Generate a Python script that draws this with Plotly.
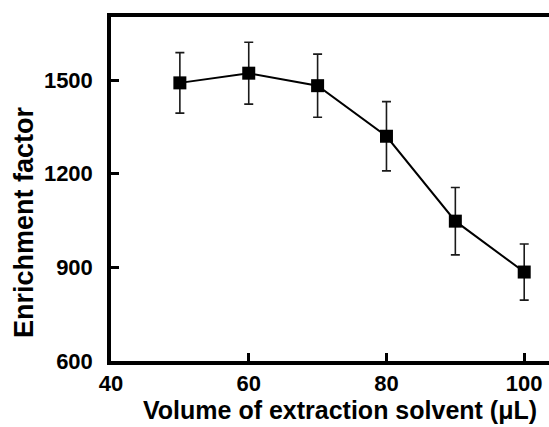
import plotly.graph_objects as go

volume = [50, 60, 70, 80, 90, 100]
enrichment = [1491, 1522, 1482, 1320, 1048, 885]
error = [97, 99, 101, 111, 108, 90]

x_ticks = [40, 60, 80, 100]
y_ticks = [600, 900, 1200, 1500]

x_title = "Volume of extraction solvent (μL)"
y_title = "Enrichment factor"

FONT = "Liberation Sans, Arial, sans-serif"

fig = go.Figure()
fig.add_trace(go.Scatter(
    x=volume, y=enrichment,
    mode="lines+markers",
    line=dict(color="black", width=2),
    marker=dict(symbol="square", size=13, color="black"),
    error_y=dict(type="data", array=error, visible=True,
                 color="#1a1a1a", thickness=1.6, width=4.5),
    showlegend=False,
))

fig.update_layout(
    width=549, height=427,
    margin=dict(l=111, r=0, t=17, b=66),
    paper_bgcolor="white", plot_bgcolor="white",
    font=dict(family=FONT, color="black"),
)
fig.update_xaxes(
    range=[40, 103.6], tickvals=x_ticks, ticktext=[str(v) for v in x_ticks],
    showgrid=False, zeroline=False,
    showline=True, linecolor="black", linewidth=3.5, mirror=True,
    ticks="inside", ticklen=8, tickwidth=3, tickcolor="black",
    tickfont=dict(family=FONT, size=22, weight="bold", color="black"),
)
fig.update_yaxes(
    range=[600, 1702], tickvals=y_ticks, ticktext=[str(v) for v in y_ticks],
    showgrid=False, zeroline=False,
    showline=True, linecolor="black", linewidth=3.5, mirror=False,
    ticks="inside", ticklen=8, tickwidth=3, tickcolor="black",
    ticklabelstandoff=10,
    tickfont=dict(family=FONT, size=22, weight="bold", color="black"),
)

# axis titles placed as in the reference
plot_w = 549 - 111
plot_h = 427 - 17 - 66
fig.add_annotation(
    text=x_title, xref="paper", yref="paper",
    x=(340 - 111) / plot_w, y=-(410 - (427 - 66)) / plot_h,
    xanchor="center", yanchor="middle", showarrow=False,
    font=dict(family=FONT, size=25, weight="bold", color="black"),
)
fig.add_annotation(
    text=y_title, xref="paper", yref="paper",
    x=(24 - 111) / plot_w, y=((427 - 66) - 222) / plot_h,
    xanchor="center", yanchor="middle", textangle=-90, showarrow=False,
    font=dict(family=FONT, size=27, weight="bold", color="black"),
)

fig.write_html("out.html")
